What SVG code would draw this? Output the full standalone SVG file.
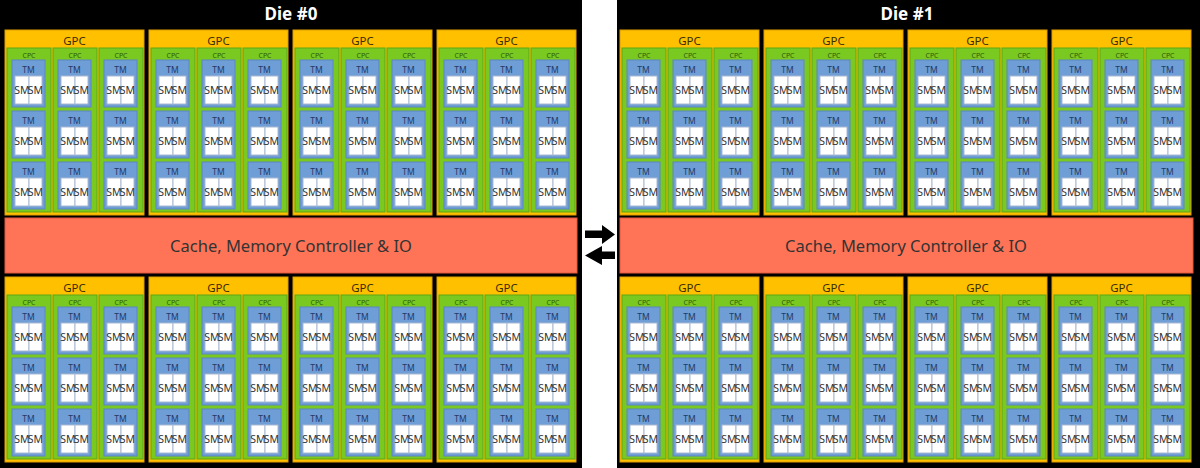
<svg xmlns="http://www.w3.org/2000/svg" xmlns:xlink="http://www.w3.org/1999/xlink" width="1200" height="468" viewBox="0 0 1200 468">
<style>
text{font-family:"Noto Sans","Liberation Sans",sans-serif;text-anchor:middle}
.die{fill:#000}
.title{fill:#fff;font-size:17px;font-weight:bold}
.gpc{fill:#FFC000;stroke:#E09E00;stroke-width:1}
.gpcT{fill:#3a2e00;font-size:11.5px}
.cpc{fill:#7AC920;stroke:#5FA615;stroke-width:1}
.cpcT{fill:#2f5a0c;font-size:7px}
.tm{fill:#6F9DD6;stroke:#5A87BF;stroke-width:1}
.tmT{fill:#1f3a66;font-size:8.5px}
.sm{fill:#fff;stroke:#A8BAD2;stroke-width:1}
.smT{fill:#333;font-size:10.5px}
.cache{fill:#FF7357;stroke:#E45A3E;stroke-width:1}
.cacheT{fill:#333;font-size:16.5px}
.arrow{fill:#000}
</style>
<defs>
<g id="tmBlk">
<rect class="tm" x="0" y="0" width="33" height="47"/>
<text class="tmT" x="16.5" y="13">TM</text>
<rect class="sm" x="3" y="16" width="14" height="28"/>
<rect class="sm" x="17" y="16" width="13" height="28"/>
<text class="smT" x="10" y="34">SM</text>
<text class="smT" x="23.5" y="34">SM</text>
</g>
<g id="cpcBlk">
<rect class="cpc" x="0" y="0" width="44" height="164"/>
<text class="cpcT" x="22" y="9.5">CPC</text>
<use xlink:href="#tmBlk" href="#tmBlk" x="5" y="12"/>
<use xlink:href="#tmBlk" href="#tmBlk" x="5" y="63"/>
<use xlink:href="#tmBlk" href="#tmBlk" x="5" y="114"/>
</g>
<g id="gpcBlk">
<rect class="gpc" x="0" y="0" width="139" height="185"/>
<text class="gpcT" x="69.5" y="15">GPC</text>
<use xlink:href="#cpcBlk" href="#cpcBlk" x="2" y="18"/>
<use xlink:href="#cpcBlk" href="#cpcBlk" x="48" y="18"/>
<use xlink:href="#cpcBlk" href="#cpcBlk" x="94" y="18"/>
</g>
</defs>
<rect x="0" y="0" width="1200" height="468" fill="#fff"/>
<g id="die0">
<rect class="die" x="0" y="0" width="582" height="468"/>
<text class="title" x="291" y="20">Die #0</text>
<g id="die0-gpc-top-0"><use xlink:href="#gpcBlk" href="#gpcBlk" x="5" y="30"/></g>
<g id="die0-gpc-top-1"><use xlink:href="#gpcBlk" href="#gpcBlk" x="149" y="30"/></g>
<g id="die0-gpc-top-2"><use xlink:href="#gpcBlk" href="#gpcBlk" x="293" y="30"/></g>
<g id="die0-gpc-top-3"><use xlink:href="#gpcBlk" href="#gpcBlk" x="437" y="30"/></g>
<g id="die0-cache"><rect class="cache" x="5" y="218" width="572" height="55"/><text class="cacheT" x="291" y="251.5">Cache, Memory Controller &amp; IO</text></g>
<g id="die0-gpc-bot-0"><use xlink:href="#gpcBlk" href="#gpcBlk" x="5" y="277"/></g>
<g id="die0-gpc-bot-1"><use xlink:href="#gpcBlk" href="#gpcBlk" x="149" y="277"/></g>
<g id="die0-gpc-bot-2"><use xlink:href="#gpcBlk" href="#gpcBlk" x="293" y="277"/></g>
<g id="die0-gpc-bot-3"><use xlink:href="#gpcBlk" href="#gpcBlk" x="437" y="277"/></g>
</g>
<g id="die1">
<rect class="die" x="617" y="0" width="583" height="468"/>
<text class="title" x="907" y="20">Die #1</text>
<g id="die1-gpc-top-0"><use xlink:href="#gpcBlk" href="#gpcBlk" x="620" y="30"/></g>
<g id="die1-gpc-top-1"><use xlink:href="#gpcBlk" href="#gpcBlk" x="764" y="30"/></g>
<g id="die1-gpc-top-2"><use xlink:href="#gpcBlk" href="#gpcBlk" x="908" y="30"/></g>
<g id="die1-gpc-top-3"><use xlink:href="#gpcBlk" href="#gpcBlk" x="1052" y="30"/></g>
<g id="die1-cache"><rect class="cache" x="620" y="218" width="573" height="55"/><text class="cacheT" x="906" y="251.5">Cache, Memory Controller &amp; IO</text></g>
<g id="die1-gpc-bot-0"><use xlink:href="#gpcBlk" href="#gpcBlk" x="620" y="277"/></g>
<g id="die1-gpc-bot-1"><use xlink:href="#gpcBlk" href="#gpcBlk" x="764" y="277"/></g>
<g id="die1-gpc-bot-2"><use xlink:href="#gpcBlk" href="#gpcBlk" x="908" y="277"/></g>
<g id="die1-gpc-bot-3"><use xlink:href="#gpcBlk" href="#gpcBlk" x="1052" y="277"/></g>
</g>
<g id="connectors">
<polygon class="arrow" points="585,230.5 602,230.5 602,225 615,234.5 602,244 602,238 585,238"/>
<polygon class="arrow" points="615,251.5 602,251.5 602,246 585,255.5 602,265 602,259 615,259"/>
</g>
</svg>
